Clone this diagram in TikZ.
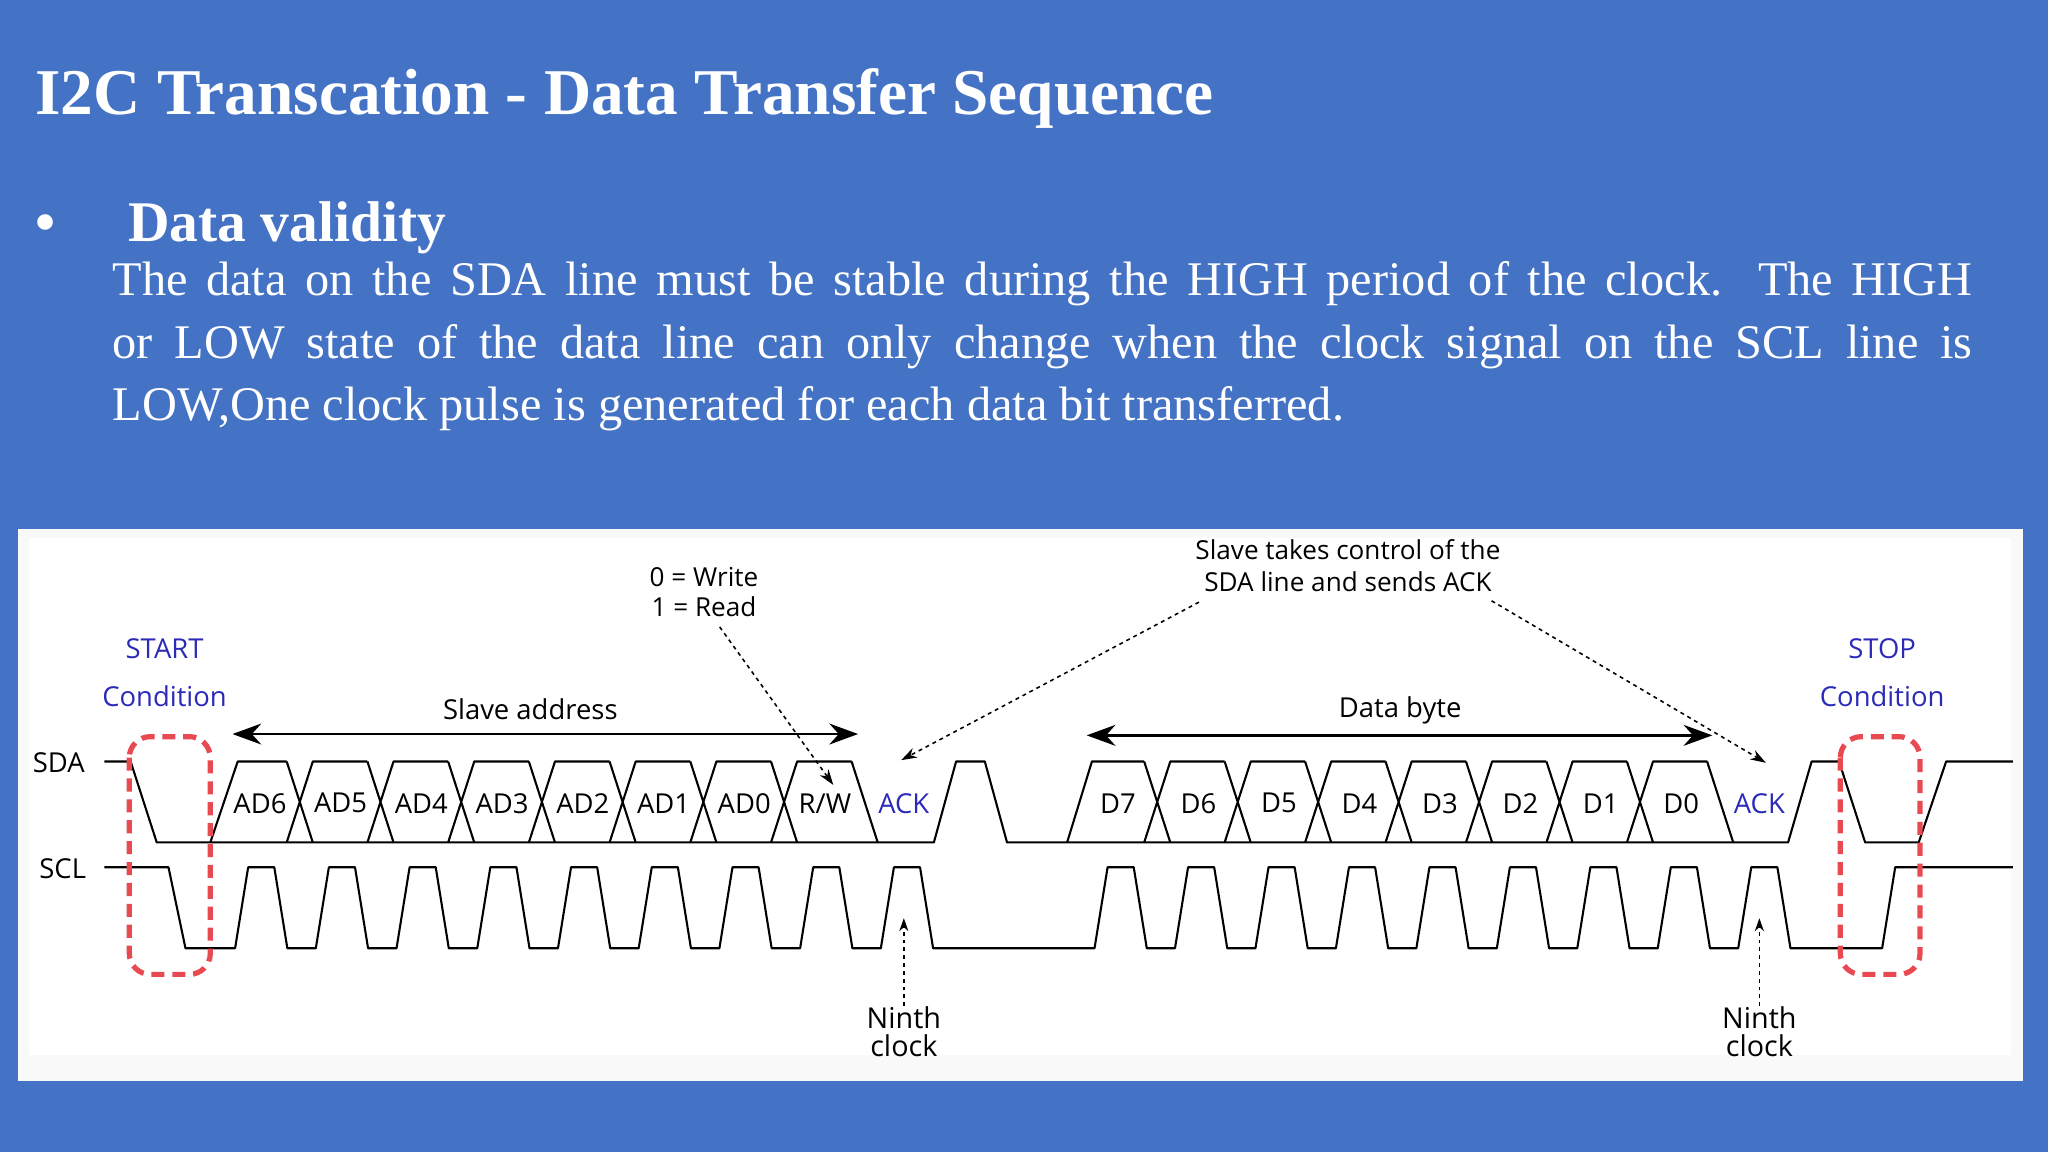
\documentclass[tikz,border=0pt]{standalone}
\usepackage{fontspec}
\setmainfont{Liberation Serif}
\newfontfamily\diag{Open Sans}
\usetikzlibrary{arrows.meta}
\definecolor{bg}{HTML}{4472C4}
\definecolor{lbl}{HTML}{2B2BB8}
\definecolor{rd}{HTML}{E84A52}
\tikzset{
  wave/.style={line width=1.6pt,black,line join=round},
  lab/.style={font=\diag\fontsize{21}{23}\selectfont,inner sep=0pt},
  bluelab/.style={lab,text=lbl},
  dasharrow/.style={dashed,line width=1.2pt,-{Stealth[length=12pt,width=8pt]}},
  spanarrow/.style={line width=2pt,{Stealth[length=22pt,width=16pt]}-{Stealth[length=22pt,width=16pt]}},
  redbox/.style={draw=rd,line width=4pt,dash pattern=on 10pt off 6pt,rounded corners=16pt}
}
\begin{document}
\begin{tikzpicture}[x=1pt,y=-1pt]
\useasboundingbox (0,0) rectangle (1568,882);
\fill[bg] (0,0) rectangle (1568,882);
% title and text
\node[anchor=base west,inner sep=0pt,text=white,font=\bfseries\fontsize{50}{56}\selectfont] (title) at (27,88) {I2C Transcation - Data Transfer Sequence};
\node[anchor=base west,inner sep=0pt,text=white,font=\bfseries\fontsize{44}{50}\selectfont] (bullet) at (27,185) {\textbullet};
\node[anchor=base west,inner sep=0pt,text=white,font=\bfseries\fontsize{44}{50}\selectfont] (head) at (98,185) {Data validity};
\node[anchor=north west,inner sep=0pt,text=white,text width=1424pt,align=justify,font=\fontsize{37}{48}\selectfont] (para) at (86,200)
{The data on the SDA line must be stable during the HIGH period of the clock. The HIGH\linebreak
or LOW state of the data line can only change when the clock signal on the SCL line is\linebreak
LOW,One clock pulse is generated for each data bit transferred.};
% diagram panel
\fill[white!95!gray] (14,405) rectangle (1549,828);
\fill[white] (22,412) rectangle (1540,808);
% labels
\node[lab] (sda) at (45,584) {SDA};
\node[lab] (scl) at (48,665) {SCL};
\node[bluelab] (start1) at (126,497) {START};
\node[bluelab] (start2) at (126,533) {Condition};
\node[bluelab] (stop1) at (1441,497) {STOP};
\node[bluelab] (stop2) at (1441,533) {Condition};
% SDA low line and start/ack/stop segments
\draw[wave] (80,583)--(100,583)--(120,645)--(715,645)--(732,583)--(754,583)--(771,645)--(1369,645)--(1387,583)--(1408,583)--(1428,645)--(1469,645)--(1490,583)--(1541,583);
% address cells
\draw[wave] (161,645)--(182,583)--(219.5,583);
\foreach \j in {0,...,6}{
  \pgfmathsetmacro{\X}{229.5+61.8*\j}
  \pgfmathsetmacro{\Xn}{229.5+61.8*(\j+1)}
  \draw[wave] (\X-10,583)--(\X+10,645) (\X-10,645)--(\X+10,583)--(\Xn-10,583);
}
\draw[wave] (652,583)--(672,645);
% data cells
\draw[wave] (817,645)--(836,583)--(876,583);
\foreach \j in {0,...,6}{
  \pgfmathsetmacro{\X}{886+61.6*\j}
  \pgfmathsetmacro{\Xn}{886+61.6*(\j+1)}
  \draw[wave] (\X-10,583)--(\X+10,645) (\X-10,645)--(\X+10,583)--(\Xn-10,583);
}
\draw[wave] (1307,583)--(1327,645);
% cell labels
\foreach \t [count=\i from 0] in {AD6,AD5,AD4,AD3,AD2,AD1,AD0,R/W}{
  \node[lab] (a\i) at ({199+61.8*\i},615) {\t};
}
\node[bluelab] (ack1) at (692,615) {ACK};
\foreach \t [count=\i from 0] in {D7,D6,D5,D4,D3,D2,D1,D0}{
  \node[lab] (d\i) at ({856+61.6*\i},615) {\t};
}
\node[bluelab] (ack2) at (1347,615) {ACK};
% SCL
\draw[wave] (80,664)--(129,664)--(142,726)
  \foreach \k in {0,...,8}{ -- ({200+61.8*\k-20},726)--({200+61.8*\k-10},664)--({200+61.8*\k+10},664)--({200+61.8*\k+20},726) }
  \foreach \k in {0,...,8}{ -- ({858+61.6*\k-20},726)--({858+61.6*\k-10},664)--({858+61.6*\k+10},664)--({858+61.6*\k+20},726) }
  -- (1441,726)--(1451,664)--(1541,664);
% red dashed boxes
\draw[redbox] (99,564) rectangle (161,746);
\draw[redbox] (1409,564) rectangle (1470,746);
% span arrows
\node[lab] (sa) at (406,543) {Slave address};
\coordinate (saL) at (178,562); \coordinate (saR) at (657,562);
\draw[spanarrow] (saL)--(saR);
\node[lab] (db) at (1072,544) {Data byte};
\coordinate (dbL) at (832,563); \coordinate (dbR) at (1311,563);
\draw[spanarrow] (dbL)--(dbR);
% annotations
\node[lab,align=center,font=\diag\fontsize{20}{23}\selectfont] (rw) at (539,453) {0 = Write\\1 = Read};
\coordinate (rwt) at (638,601);
\draw[dasharrow] (551,480)--(rwt);
\node[lab,align=center,font=\diag\fontsize{20}{24}\selectfont] (slv) at (1032,433) {Slave takes control of the\\SDA line and sends ACK};
\coordinate (ackt1) at (690,582); \coordinate (ackt2) at (1352,584);
\draw[dasharrow] (918,461)--(ackt1);
\draw[dasharrow] (1142,460)--(ackt2);
\node[lab,align=center,font=\diag\fontsize{22}{22}\selectfont] (n1) at (692,790) {Ninth\\clock};
\node[lab,align=center,font=\diag\fontsize{22}{22}\selectfont] (n2) at (1347,790) {Ninth\\clock};
\coordinate (n1t) at (692,703); \coordinate (n2t) at (1347,703);
\draw[dasharrow,line width=1pt,-{Stealth[length=10pt,width=7pt]}] (n1.north)--(n1t);
\draw[dasharrow,line width=1pt,-{Stealth[length=10pt,width=7pt]}] (n2.north)--(n2t);
\end{tikzpicture}
\end{document}
